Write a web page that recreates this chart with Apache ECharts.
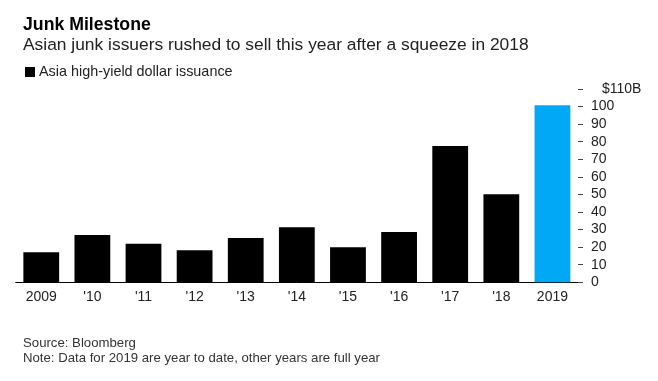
<!DOCTYPE html>
<html>
<head>
<meta charset="utf-8">
<script src="https://cdn.jsdelivr.net/npm/echarts@6/dist/echarts.min.js"></script>
<style>
html,body{margin:0;padding:0;background:#fff;}
#c{width:658px;height:381px;}
</style>
</head>
<body>
<div id="c"></div>
<script>
const categories = ['2009','2010','2011','2012','2013','2014','2015','2016','2017','2018','2019'];
const tickLabels = ['2009',"'10","'11","'12","'13","'14","'15","'16","'17","'18",'2019'];
const issuance = [17.1, 26.9, 22.0, 18.2, 25.2, 31.3, 19.9, 28.6, 77.6, 50.1, 100.7];
const yTicks = [0,10,20,30,40,50,60,70,80,90,100,110];

const FONT = '"Liberation Sans", Arial, Helvetica, sans-serif';
const chart = echarts.init(document.getElementById('c'), null, {renderer:'canvas'});
chart.setOption({
  animation:false,
  backgroundColor:'#fff',
  textStyle:{fontFamily:FONT},
  title:[
    {text:'Junk Milestone', left:18, top:11, textStyle:{fontFamily:FONT, fontSize:17.7, fontWeight:'bold', color:'#000'}},
    {text:'Asian junk issuers rushed to sell this year after a squeeze in 2018', left:18, top:32, textStyle:{fontFamily:FONT, fontSize:17.4, fontWeight:'normal', color:'#222'}},
    {text:'Source: Bloomberg\nNote: Data for 2019 are year to date, other years are full year', left:18, top:331, textStyle:{fontFamily:FONT, fontSize:13.2, fontWeight:'normal', color:'#333', lineHeight:15}}
  ],
  legend:{
    left:20, top:60, icon:'rect', itemWidth:10, itemHeight:10, itemGap:5,
    textStyle:{fontFamily:FONT, fontSize:14.4, color:'#222', padding:[0,0,0,-1]},
    data:['Asia high-yield dollar issuance']
  },
  grid:{left:15.7, right:80, top:89, bottom:98.7},
  xAxis:{
    type:'category', data:categories,
    axisLine:{show:true, lineStyle:{color:'#000', width:1}},
    axisTick:{show:false},
    axisLabel:{fontFamily:FONT, fontSize:14, color:'#222', margin:8,
      formatter:(v,i)=>tickLabels[i]}
  },
  yAxis:{
    type:'value', position:'right', min:0, max:110, interval:10,
    axisLine:{show:false},
    axisTick:{show:true, length:5, lineStyle:{color:'#444'}},
    splitLine:{show:false},
    axisLabel:{fontFamily:FONT, fontSize:14, color:'#222', margin:13, align:'left',
      formatter:v=> v===yTicks[yTicks.length-1] ? '{top|$'+v+'B}' : String(v),
      rich:{top:{fontFamily:FONT, fontSize:14, color:'#222', padding:[0,0,0,11]}}}
  },
  series:[{
    name:'Asia high-yield dollar issuance', type:'bar', barCategoryGap:'30%',
    itemStyle:{color:'#000'},
    data:issuance.map((v,i)=> i===issuance.length-1 ? {value:v, itemStyle:{color:'#00a8f6'}} : v)
  }]
});
</script>
</body>
</html>
